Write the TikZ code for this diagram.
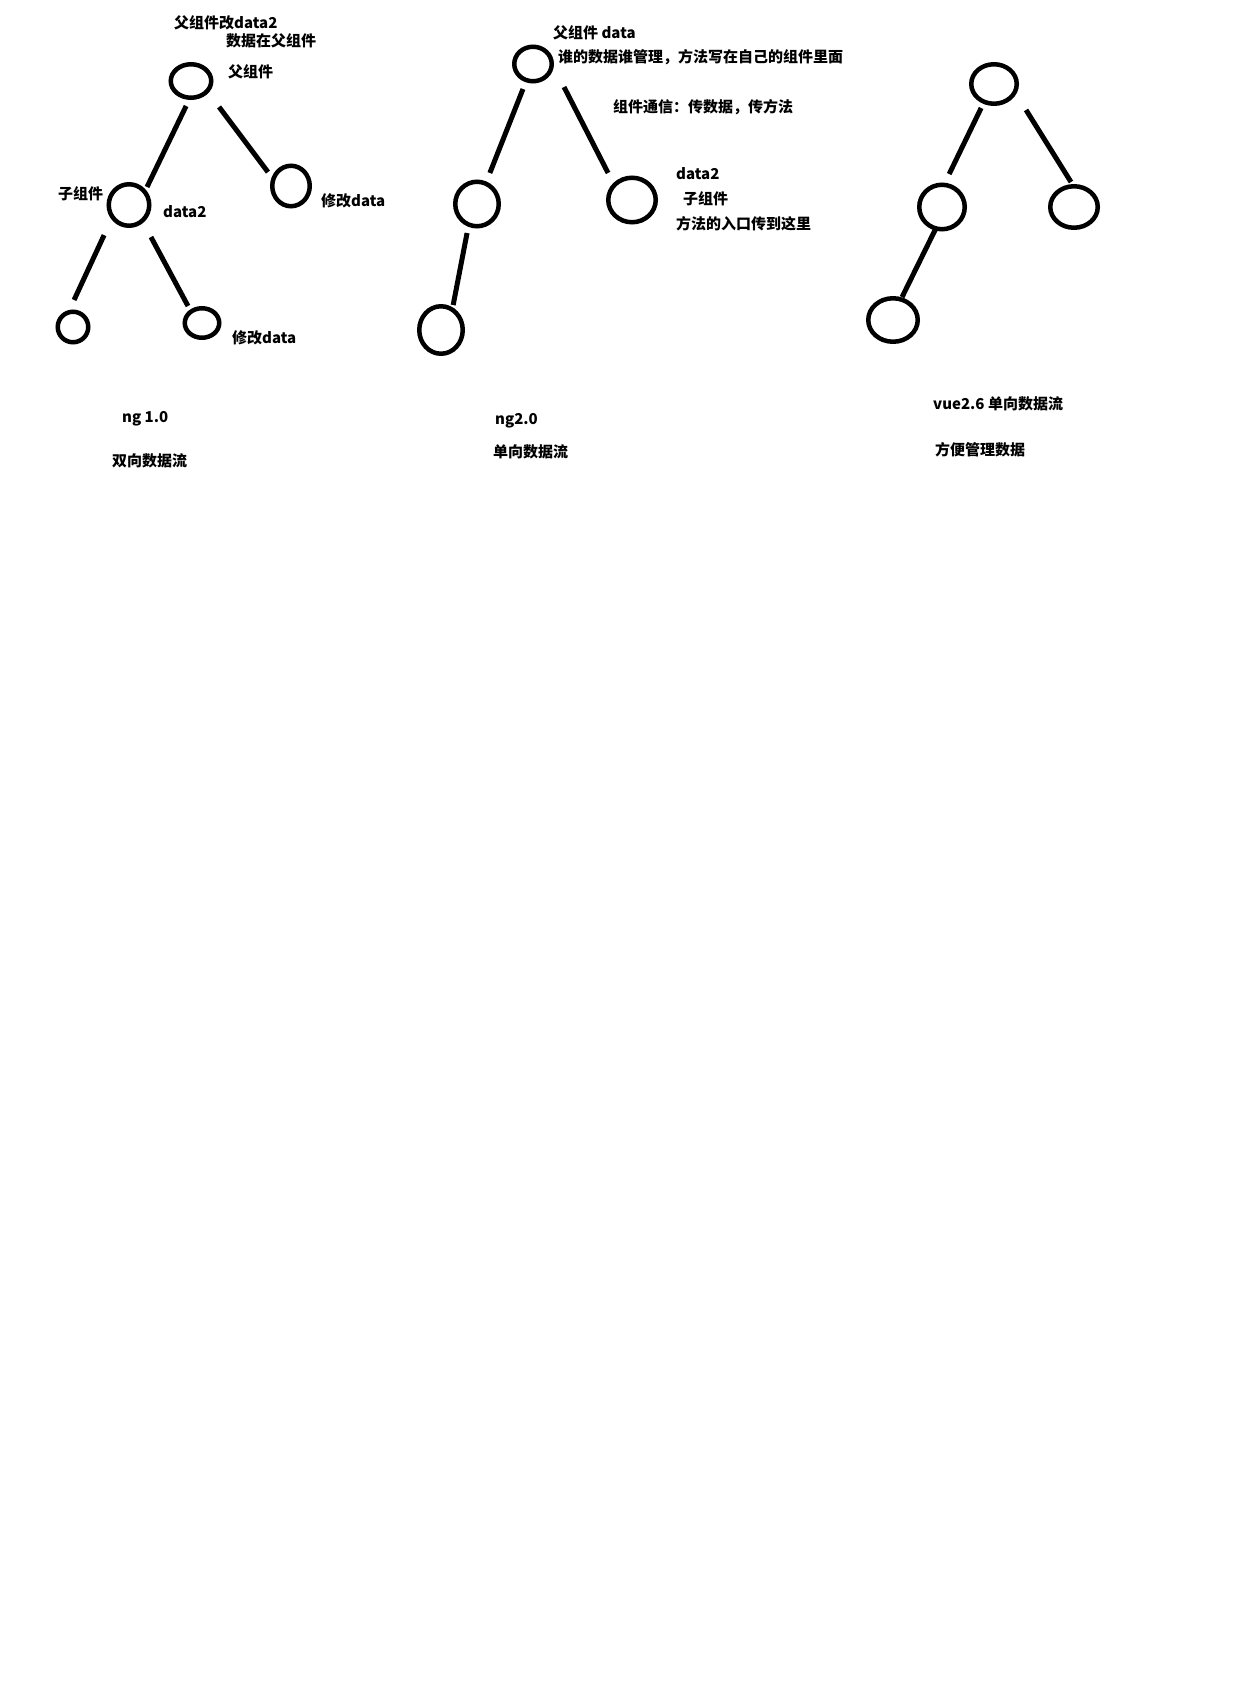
\documentclass[tikz,border=0pt]{standalone}
\usepackage{fontspec}
\setmainfont{Noto Sans CJK SC}
\usetikzlibrary{shapes.geometric}

\begin{document}
\begin{tikzpicture}[x=1pt,y=-1pt,
  comp/.style={ellipse,draw,line width=4.5pt,inner sep=0pt,outer sep=0pt},
  link/.style={line width=5pt},
  lbl/.style={anchor=west,inner sep=0pt,font=\fontsize{15pt}{18pt}\selectfont\bfseries}]
\useasboundingbox (0,0) rectangle (1232,1696);

% ng 1.0
\node[comp,minimum width=40.5pt,minimum height=33.5pt] (ng1top) at (191,81) {};
\node[comp,minimum width=40.5pt,minimum height=41.5pt] (ng1left) at (129,205) {};
\node[comp,minimum width=37.5pt,minimum height=40.5pt] (ng1right) at (291,186) {};
\node[comp,minimum width=30.5pt,minimum height=30.5pt] (ng1ll) at (73,327) {};
\node[comp,minimum width=34.5pt,minimum height=29.5pt] (ng1lr) at (202,323) {};
\draw[link,shorten <=9.2pt,shorten >=5.4pt] (ng1top.-93) -- (ng1left.40);
\draw[link,shorten <=19.8pt,shorten >=8.9pt] (ng1top.-32) -- (ng1right.159);
\draw[link,shorten <=20pt,shorten >=13.8pt] (ng1left.-144) -- (ng1ll.108);
\draw[link,shorten <=18.5pt,shorten >=6.4pt] (ng1left.-50) -- (ng1lr.134);

\node[lbl] (ng1note) at (174,23) {父组件改data2};
\node[lbl] (ng1where) at (226,41) {数据在父组件};
\node[lbl] (ng1par) at (228,72) {父组件};
\node[lbl] (ng1kid) at (58,194) {子组件};
\node[lbl] (ng1data) at (163,212) {data2};
\node[lbl] (ng1mod) at (321,201) {修改data};
\node[lbl] (ng1mod2) at (232,338) {修改data};
\node[lbl] (ng1name) at (122,419) {ng 1.0};
\node[lbl] (ng1flow) at (112,461) {双向数据流};

% ng2.0
\node[comp,minimum width=37.5pt,minimum height=34.5pt] (ng2top) at (533,64) {};
\node[comp,minimum width=43.5pt,minimum height=44.5pt] (ng2left) at (477,204) {};
\node[comp,minimum width=47.5pt,minimum height=44.5pt] (ng2right) at (632,200) {};
\node[comp,minimum width=43.5pt,minimum height=47.5pt] (ng2ll) at (441,330) {};
\draw[link,shorten <=9.5pt,shorten >=11.4pt] (ng2top.-112) -- (ng2left.67);
\draw[link,shorten <=27pt,shorten >=13.7pt] (ng2top.3) -- (ng2right.140);
\draw[link,shorten <=8.6pt,shorten >=4.7pt] (ng2left.-112) -- (ng2ll.61);

\node[lbl] (ng2par) at (553,33) {父组件 data};
\node[lbl] (ng2rule) at (558,57) {谁的数据谁管理，方法写在自己的组件里面};
\node[lbl] (ng2comm) at (613,107) {组件通信：传数据，传方法};
\node[lbl] (ng2data) at (676,174) {data2};
\node[lbl] (ng2kid) at (683,199) {子组件};
\node[lbl] (ng2entry) at (676,224) {方法的入口传到这里};
\node[lbl] (ng2name) at (495,421) {ng2.0};
\node[lbl] (ng2flow) at (493,452) {单向数据流};

% vue2.6
\node[comp,minimum width=45.5pt,minimum height=39.5pt] (vuetop) at (994,84) {};
\node[comp,minimum width=45.5pt,minimum height=44.5pt] (vueleft) at (942,207) {};
\node[comp,minimum width=47.5pt,minimum height=41.5pt] (vueright) at (1074,207) {};
\node[comp,minimum width=49.5pt,minimum height=43.5pt] (vuell) at (893,320) {};
\draw[link,shorten <=6.9pt,shorten >=12pt] (vuetop.-119) -- (vueleft.85);
\draw[link,shorten <=21.2pt,shorten >=5pt] (vuetop.-21) -- (vueright.91);
\draw[link,shorten <=1.75pt,shorten >=2.6pt] (vueleft.-106) -- (vuell.69);

\node[lbl] (vuename) at (933,404) {vue2.6 单向数据流};
\node[lbl] (vueflow) at (935,450) {方便管理数据};
\end{tikzpicture}
\end{document}
